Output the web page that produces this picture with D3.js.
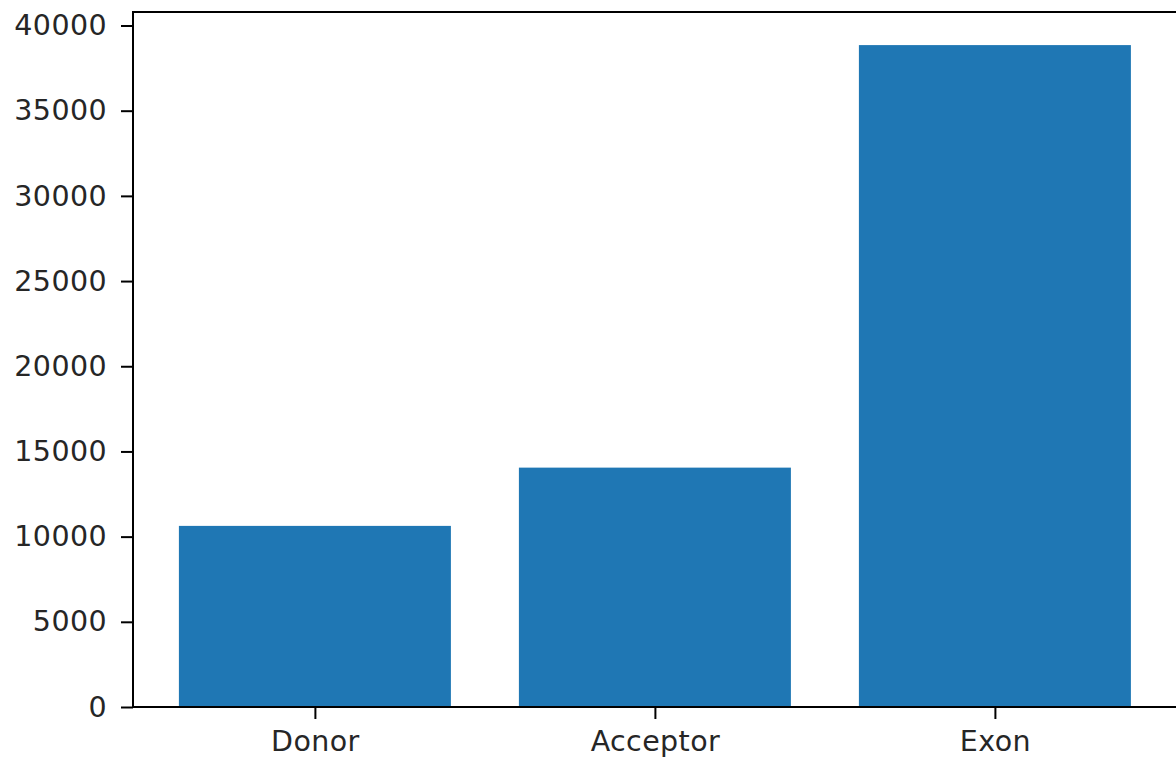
<!DOCTYPE html>
<html>
<head>
<meta charset="utf-8">
<script src="https://cdn.jsdelivr.net/npm/d3@7"></script>
<style>
  body { margin: 0; background: #fff; }
  text { font-family: "DejaVu Sans", sans-serif; fill: #262626; }
</style>
</head>
<body>
<div id="chart"></div>
<script>
const categories = ["Donor", "Acceptor", "Exon"];
const counts = [10630, 14050, 38850];
const yTicks = [0, 5000, 10000, 15000, 20000, 25000, 30000, 35000, 40000];

const W = 1176, H = 758;
const margin = {top: 12, left: 133, bottom: 51};
const plotBottom = H - margin.bottom;

const svg = d3.select("#chart").append("svg")
    .attr("width", W)
    .attr("height", H);

// matplotlib-like autoscale: bars of width 0.8, 5% margins
const x = d3.scaleLinear()
    .domain([-0.535, categories.length - 1 + 0.54])
    .range([margin.left, margin.left + 3.075 * 340]);

const y = d3.scaleLinear()
    .domain([0, d3.max(counts) * 1.05])
    .range([plotBottom, margin.top]);

const bw = 0.8;

svg.selectAll(".bar")
    .data(counts)
    .enter()
    .append("rect")
    .attr("class", "bar")
    .attr("x", (d, i) => x(i - bw / 2))
    .attr("width", (d, i) => x(i + bw / 2) - x(i - bw / 2))
    .attr("y", d => y(d))
    .attr("height", d => y(0) - y(d))
    .style("fill", "#1f77b4");

// y axis
const yAxis = d3.axisLeft(y)
    .tickValues(yTicks)
    .tickFormat(d3.format("d"))
    .tickSizeOuter(0)
    .tickSize(12)
    .tickPadding(14);

const gy = svg.append("g")
    .attr("transform", `translate(${margin.left},0)`)
    .call(yAxis);

// x axis
const xAxis = d3.axisBottom(x)
    .tickValues(d3.range(categories.length))
    .tickFormat(i => categories[i])
    .tickSizeOuter(0)
    .tickSize(12)
    .tickPadding(12);

const gx = svg.append("g")
    .attr("transform", `translate(0,${plotBottom})`)
    .call(xAxis);

[gx, gy].forEach(g => {
    g.select(".domain").remove();
    g.selectAll(".tick line").attr("stroke", "#000").attr("stroke-width", 2);
    g.selectAll(".tick text")
        .style("font-size", "28.5px")
        .style("letter-spacing", "0.4px")
        .attr("fill", "#262626");
});

// spines
const x0 = x.range()[0], x1 = x.range()[1];
svg.append("rect")
    .attr("x", x0)
    .attr("y", margin.top)
    .attr("width", x1 - x0)
    .attr("height", plotBottom - margin.top)
    .attr("fill", "none")
    .attr("stroke", "#000")
    .attr("stroke-width", 2);
</script>
</body>
</html>
